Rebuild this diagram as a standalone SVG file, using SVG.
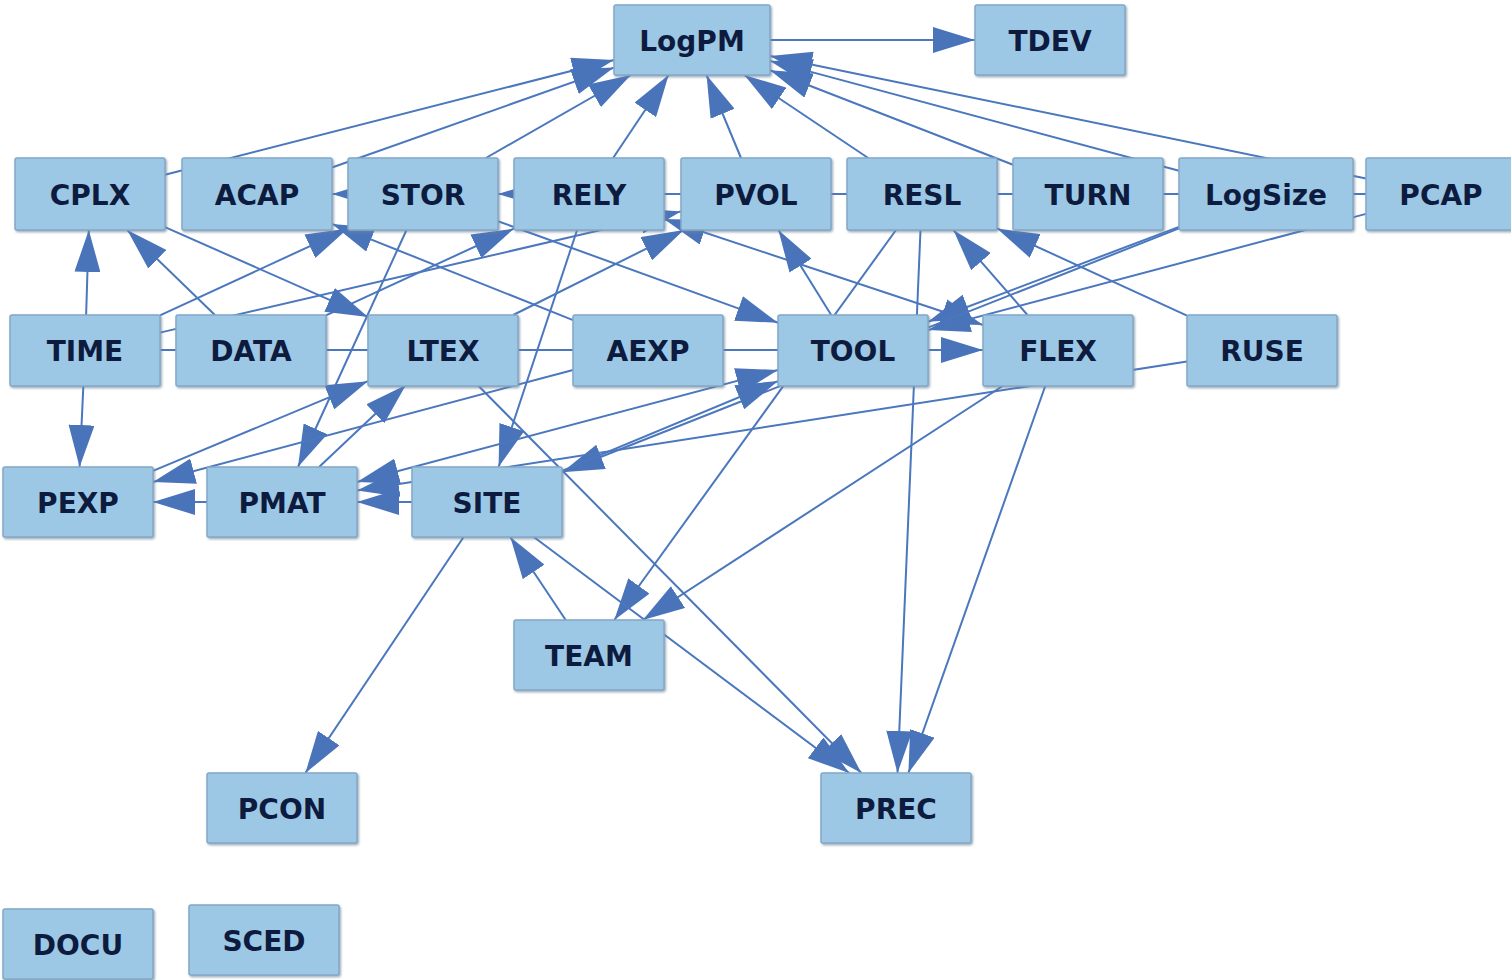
<svg xmlns="http://www.w3.org/2000/svg" width="1511" height="980" viewBox="0 0 1511 980">
  <style>
    .edge { stroke: #4a77bd; stroke-width: 2; fill: none; }
    .dir { marker-end: url(#arr); }
    .bi { marker-start: url(#arr); marker-end: url(#arr); }
    .node rect { fill: #9cc8e6; stroke: #84a8c8; stroke-width: 1.5; filter: url(#shadow); }
    .node text { font-family: "DejaVu Sans", "Liberation Sans", sans-serif; font-weight: bold; font-size: 28px; fill: #0d1b3e; text-anchor: middle; }
  </style>
  <defs>
    <marker id="arr" viewBox="0 0 42 26" refX="42" refY="13" markerWidth="42" markerHeight="26" markerUnits="userSpaceOnUse" orient="auto-start-reverse">
      <path d="M0,0 L42,13 L0,26 z" fill="#4a74ba"/>
    </marker>
    <filter id="shadow" x="-5%" y="-5%" width="115%" height="120%">
      <feDropShadow dx="1.2" dy="1.5" stdDeviation="0.8" flood-color="#6f8699" flood-opacity="0.7"/>
    </filter>
  </defs>
  <rect width="1511" height="980" fill="#ffffff"/>

  <g id="edges">
    <line class="edge dir" x1="770" y1="40" x2="975" y2="40"/>
    <line class="edge dir" x1="165" y1="174.8" x2="614" y2="60"/>
    <line class="edge dir" x1="332" y1="167.5" x2="614" y2="67.6"/>
    <line class="edge dir" x1="485.9" y1="158" x2="630.9" y2="75"/>
    <line class="edge dir" x1="613.1" y1="158" x2="668.6" y2="75"/>
    <line class="edge dir" x1="741" y1="158" x2="706.5" y2="75"/>
    <line class="edge dir" x1="868.2" y1="158" x2="744.3" y2="75"/>
    <line class="edge dir" x1="1013" y1="164.8" x2="770" y2="70.3"/>
    <line class="edge dir" x1="1179" y1="170.7" x2="770" y2="60.9"/>
    <line class="edge dir" x1="1366" y1="178.6" x2="770" y2="56"/>
    <line class="edge dir" x1="1366" y1="194" x2="332" y2="194"/>
    <line class="edge dir" x1="1179" y1="194" x2="498" y2="194"/>
    <line class="edge dir" x1="86.1" y1="315" x2="88.8" y2="230"/>
    <line class="edge dir" x1="83.4" y1="385" x2="79.6" y2="467"/>
    <line class="edge dir" x1="214.9" y1="315" x2="127.2" y2="230"/>
    <line class="edge dir" x1="160" y1="315.4" x2="348" y2="228.6"/>
    <line class="edge dir" x1="160" y1="332.6" x2="681" y2="211.4"/>
    <line class="edge dir" x1="326" y1="315.4" x2="514" y2="228.6"/>
    <line class="edge dir" x1="165" y1="227.1" x2="368" y2="316.9"/>
    <line class="edge dir" x1="573" y1="320.1" x2="332" y2="223.9"/>
    <line class="edge dir" x1="498" y1="221.2" x2="778" y2="322.8"/>
    <line class="edge dir" x1="513.2" y1="315" x2="683.8" y2="230"/>
    <line class="edge bi" x1="664" y1="219" x2="983" y2="325"/>
    <line class="edge dir" x1="406.5" y1="230" x2="298" y2="467"/>
    <line class="edge dir" x1="577.1" y1="230" x2="498.6" y2="467"/>
    <line class="edge dir" x1="831.2" y1="315" x2="778.4" y2="230"/>
    <line class="edge dir" x1="896" y1="230" x2="614.3" y2="620"/>
    <line class="edge dir" x1="1027.5" y1="315" x2="953.4" y2="230"/>
    <line class="edge dir" x1="1187" y1="315.6" x2="997" y2="228.4"/>
    <line class="edge dir" x1="1179" y1="226.9" x2="928" y2="321.7"/>
    <line class="edge dir" x1="1366" y1="213.9" x2="928" y2="330.1"/>
    <line class="edge dir" x1="1179" y1="228.4" x2="562" y2="472.3"/>
    <line class="edge dir" x1="562" y1="470.9" x2="778" y2="381.1"/>
    <line class="edge bi" x1="357" y1="482" x2="778" y2="370"/>
    <line class="edge dir" x1="412" y1="502" x2="357" y2="502"/>
    <line class="edge dir" x1="207" y1="502" x2="153" y2="502"/>
    <line class="edge dir" x1="573" y1="370" x2="153" y2="482"/>
    <line class="edge dir" x1="153" y1="470.8" x2="368" y2="381.2"/>
    <line class="edge dir" x1="319.1" y1="467" x2="405.9" y2="385"/>
    <line class="edge dir" x1="1187" y1="361.6" x2="357" y2="490.4"/>
    <line class="edge" x1="160" y1="350" x2="778" y2="350"/>
    <line class="edge dir" x1="928" y1="350" x2="983" y2="350"/>
    <line class="edge dir" x1="1004.2" y1="385" x2="642.8" y2="620"/>
    <line class="edge dir" x1="565.7" y1="620" x2="510.3" y2="537"/>
    <line class="edge dir" x1="463.6" y1="537" x2="305.4" y2="773"/>
    <line class="edge dir" x1="533.8" y1="537" x2="849.2" y2="773"/>
    <line class="edge dir" x1="477.6" y1="385" x2="861.4" y2="773"/>
    <line class="edge dir" x1="920.5" y1="230" x2="897.5" y2="773"/>
    <line class="edge dir" x1="1045.6" y1="385" x2="908.4" y2="773"/>
  </g>

  <g id="node-LogPM" class="node"><rect x="614" y="5" width="156" height="70" rx="2"/><text x="692" y="51">LogPM</text></g>
  <g id="node-TDEV" class="node"><rect x="975" y="5" width="150" height="70" rx="2"/><text x="1050" y="51">TDEV</text></g>

  <g id="node-CPLX" class="node"><rect x="15" y="158" width="150" height="72" rx="2"/><text x="90" y="205">CPLX</text></g>
  <g id="node-ACAP" class="node"><rect x="182" y="158" width="150" height="72" rx="2"/><text x="257" y="205">ACAP</text></g>
  <g id="node-STOR" class="node"><rect x="348" y="158" width="150" height="72" rx="2"/><text x="423" y="205">STOR</text></g>
  <g id="node-RELY" class="node"><rect x="514" y="158" width="150" height="72" rx="2"/><text x="589" y="205">RELY</text></g>
  <g id="node-PVOL" class="node"><rect x="681" y="158" width="150" height="72" rx="2"/><text x="756" y="205">PVOL</text></g>
  <g id="node-RESL" class="node"><rect x="847" y="158" width="150" height="72" rx="2"/><text x="922" y="205">RESL</text></g>
  <g id="node-TURN" class="node"><rect x="1013" y="158" width="150" height="72" rx="2"/><text x="1088" y="205">TURN</text></g>
  <g id="node-LogSize" class="node"><rect x="1179" y="158" width="174" height="72" rx="2"/><text x="1266" y="205">LogSize</text></g>
  <g id="node-PCAP" class="node"><rect x="1366" y="158" width="150" height="72" rx="2"/><text x="1441" y="205">PCAP</text></g>

  <g id="node-TIME" class="node"><rect x="10" y="315" width="150" height="71" rx="2"/><text x="85" y="361">TIME</text></g>
  <g id="node-DATA" class="node"><rect x="176" y="315" width="150" height="71" rx="2"/><text x="251" y="361">DATA</text></g>
  <g id="node-LTEX" class="node"><rect x="368" y="315" width="150" height="71" rx="2"/><text x="443" y="361">LTEX</text></g>
  <g id="node-AEXP" class="node"><rect x="573" y="315" width="150" height="71" rx="2"/><text x="648" y="361">AEXP</text></g>
  <g id="node-TOOL" class="node"><rect x="778" y="315" width="150" height="71" rx="2"/><text x="853" y="361">TOOL</text></g>
  <g id="node-FLEX" class="node"><rect x="983" y="315" width="150" height="71" rx="2"/><text x="1058" y="361">FLEX</text></g>
  <g id="node-RUSE" class="node"><rect x="1187" y="315" width="150" height="71" rx="2"/><text x="1262" y="361">RUSE</text></g>

  <g id="node-PEXP" class="node"><rect x="3" y="467" width="150" height="70" rx="2"/><text x="78" y="513">PEXP</text></g>
  <g id="node-PMAT" class="node"><rect x="207" y="467" width="150" height="70" rx="2"/><text x="282" y="513">PMAT</text></g>
  <g id="node-SITE" class="node"><rect x="412" y="467" width="150" height="70" rx="2"/><text x="487" y="513">SITE</text></g>

  <g id="node-TEAM" class="node"><rect x="514" y="620" width="150" height="70" rx="2"/><text x="589" y="666">TEAM</text></g>
  <g id="node-PCON" class="node"><rect x="207" y="773" width="150" height="70" rx="2"/><text x="282" y="819">PCON</text></g>
  <g id="node-PREC" class="node"><rect x="821" y="773" width="150" height="70" rx="2"/><text x="896" y="819">PREC</text></g>
  <g id="node-DOCU" class="node"><rect x="3" y="909" width="150" height="70" rx="2"/><text x="78" y="955">DOCU</text></g>
  <g id="node-SCED" class="node"><rect x="189" y="905" width="150" height="70" rx="2"/><text x="264" y="951">SCED</text></g>
</svg>
